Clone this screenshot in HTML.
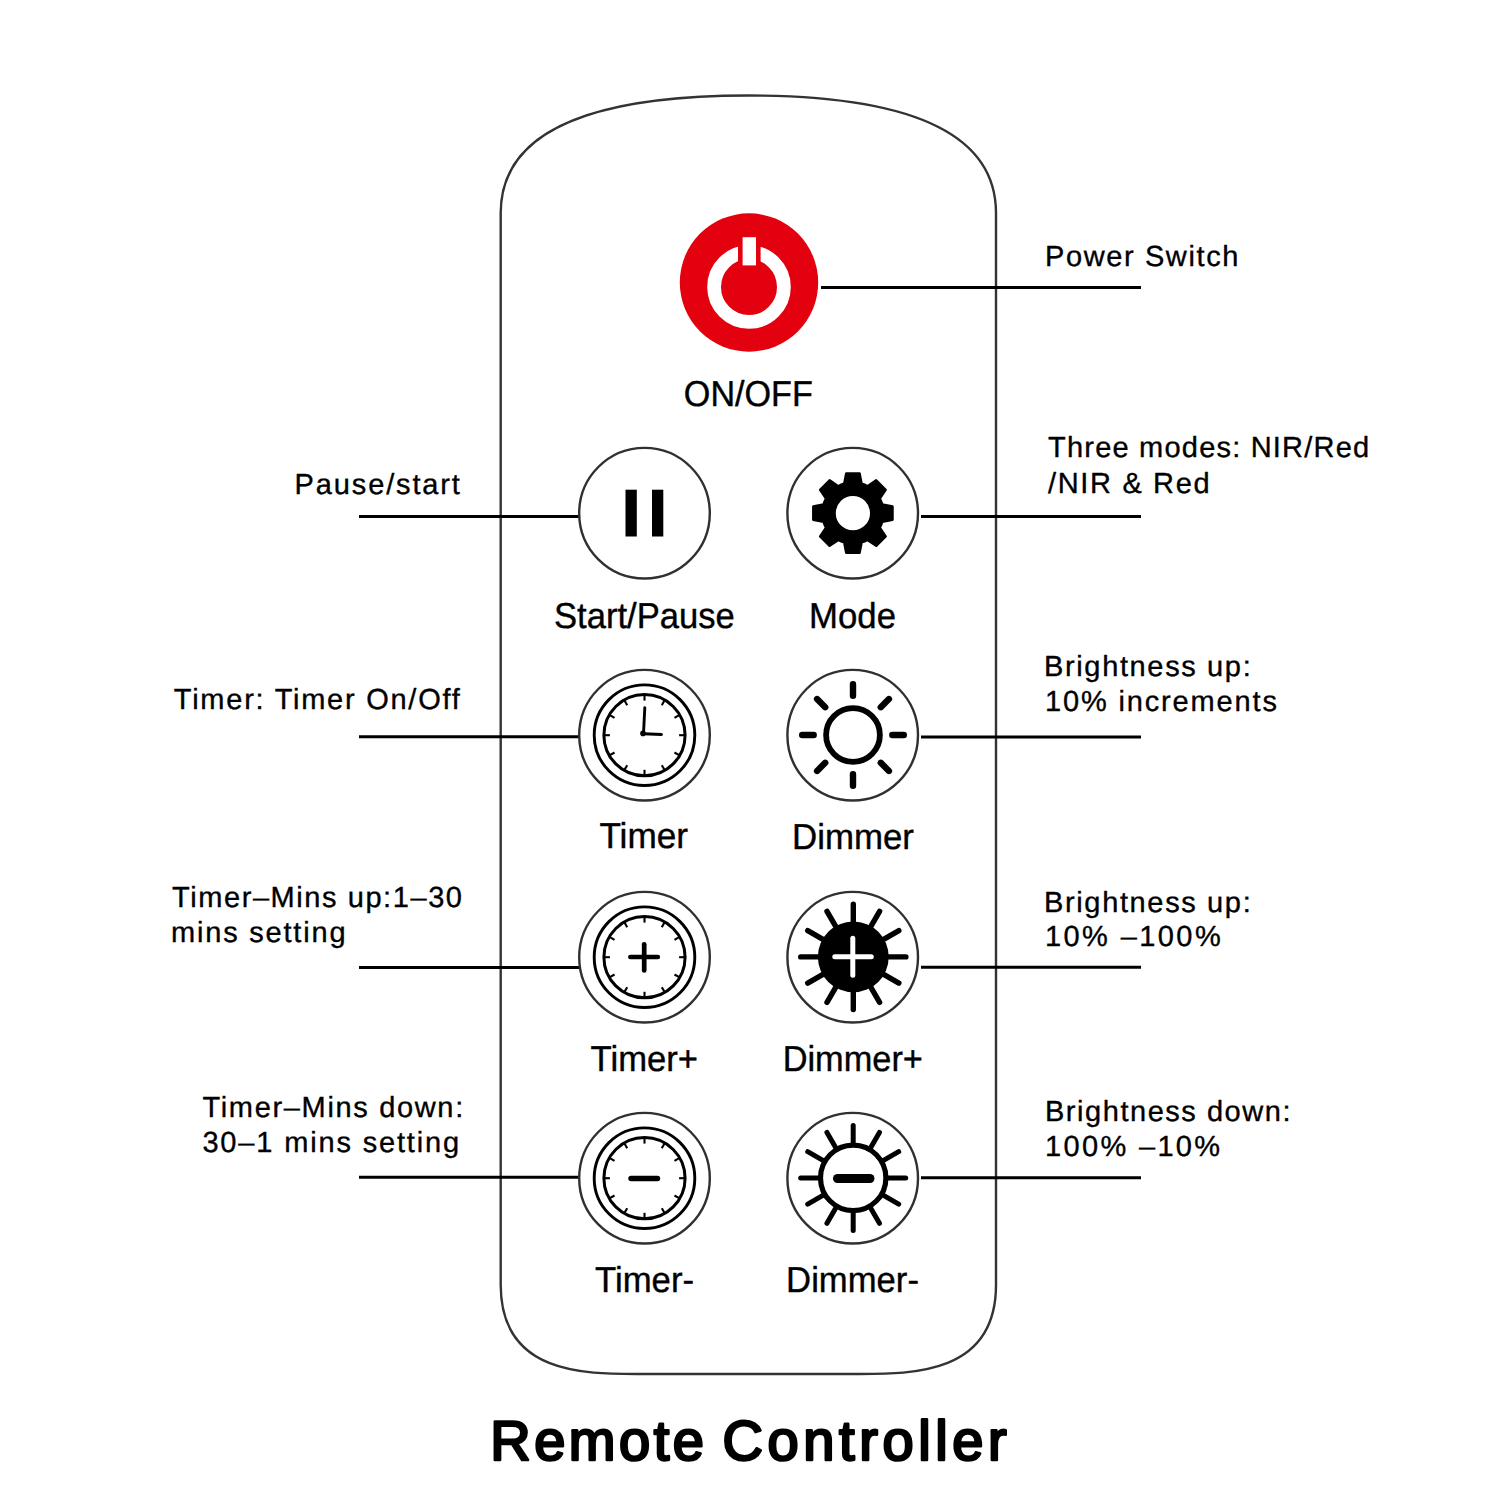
<!DOCTYPE html>
<html><head><meta charset="utf-8"><style>
html,body{margin:0;padding:0;background:#fff;}
svg{display:block;}
text{text-rendering:geometricPrecision;}
</style></head><body>
<svg width="1500" height="1500" viewBox="0 0 1500 1500">
<rect width="1500" height="1500" fill="#fff"/>
<path d="M500.7,1285.0 L500.7,213.0 C500.7,117.2 623.25,95.5 748.35,95.5 C873.45,95.5 996.0,117.2 996.0,213.0 L996.0,1285.0 C996.0,1375.6 909.7,1374.0 856.7,1374.0 L640.0,1374.0 C587.0,1374.0 500.7,1375.6 500.7,1285.0 Z" fill="none" stroke="#333" stroke-width="2.4"/>
<circle cx="749" cy="282.5" r="69.2" fill="#e3000f"/>
<circle cx="749" cy="287" r="34.9" fill="none" stroke="#fff" stroke-width="13.8"/>
<rect x="738" y="230" width="22.6" height="40" fill="#e3000f"/>
<rect x="742.6" y="237.2" width="13.4" height="28.2" fill="#fff"/>
<line x1="821" y1="287.5" x2="1141" y2="287.5" stroke="#000" stroke-width="3"/>
<line x1="359" y1="516.5" x2="579" y2="516.5" stroke="#000" stroke-width="3"/>
<line x1="921" y1="516.5" x2="1141" y2="516.5" stroke="#000" stroke-width="3"/>
<line x1="359" y1="736.8" x2="579" y2="736.8" stroke="#000" stroke-width="3"/>
<line x1="921" y1="737" x2="1141" y2="737" stroke="#000" stroke-width="3"/>
<line x1="359" y1="967.5" x2="579" y2="967.5" stroke="#000" stroke-width="3"/>
<line x1="921" y1="967.3" x2="1141" y2="967.3" stroke="#000" stroke-width="3"/>
<line x1="359" y1="1177.3" x2="579" y2="1177.3" stroke="#000" stroke-width="3"/>
<line x1="921" y1="1177.8" x2="1141" y2="1177.8" stroke="#000" stroke-width="3"/>
<circle cx="644.5" cy="513.2" r="65.3" fill="#fff" stroke="#303030" stroke-width="2.4"/>
<circle cx="852.7" cy="513.2" r="65.3" fill="#fff" stroke="#303030" stroke-width="2.4"/>
<circle cx="644.5" cy="735.2" r="65.3" fill="#fff" stroke="#303030" stroke-width="2.4"/>
<circle cx="852.7" cy="735.2" r="65.3" fill="#fff" stroke="#303030" stroke-width="2.4"/>
<circle cx="644.5" cy="957.2" r="65.3" fill="#fff" stroke="#303030" stroke-width="2.4"/>
<circle cx="852.7" cy="957.2" r="65.3" fill="#fff" stroke="#303030" stroke-width="2.4"/>
<circle cx="644.5" cy="1178.2" r="65.3" fill="#fff" stroke="#303030" stroke-width="2.4"/>
<circle cx="852.7" cy="1178.2" r="65.3" fill="#fff" stroke="#303030" stroke-width="2.4"/>
<rect x="625.5" y="489.7" width="11.3" height="46.8" fill="#000"/>
<rect x="652" y="489.7" width="11.3" height="46.8" fill="#000"/>
<path d="M844.20,483.76 L846.20,473.46 L859.60,473.46 L861.60,483.76 A30.6,30.6 0 0 1 867.49,486.20 L876.19,480.33 L885.67,489.81 L879.80,498.51 A30.6,30.6 0 0 1 882.24,504.40 L892.54,506.40 L892.54,519.80 L882.24,521.80 A30.6,30.6 0 0 1 879.80,527.69 L885.67,536.39 L876.19,545.87 L867.49,540.00 A30.6,30.6 0 0 1 861.60,542.44 L859.60,552.74 L846.20,552.74 L844.20,542.44 A30.6,30.6 0 0 1 838.31,540.00 L829.61,545.87 L820.13,536.39 L826.00,527.69 A30.6,30.6 0 0 1 823.56,521.80 L813.26,519.80 L813.26,506.40 L823.56,504.40 A30.6,30.6 0 0 1 826.00,498.51 L820.13,489.81 L829.61,480.33 L838.31,486.20 A30.6,30.6 0 0 1 844.20,483.76 Z M834.6,513.1 a18.3,18.3 0 1 0 36.6,0 a18.3,18.3 0 1 0 -36.6,0 Z" fill="#000" fill-rule="evenodd" stroke="#000" stroke-width="2.4" stroke-linejoin="round"/>
<circle cx="644.5" cy="735.2" r="50.3" fill="none" stroke="#000" stroke-width="2.9"/>
<circle cx="644.5" cy="735.2" r="40.6" fill="none" stroke="#000" stroke-width="3"/>
<line x1="679.10" y1="735.20" x2="684.50" y2="735.20" stroke="#000" stroke-width="2.1"/>
<line x1="674.46" y1="752.50" x2="679.14" y2="755.20" stroke="#000" stroke-width="2.1"/>
<line x1="661.80" y1="765.16" x2="664.50" y2="769.84" stroke="#000" stroke-width="2.1"/>
<line x1="644.50" y1="769.80" x2="644.50" y2="775.20" stroke="#000" stroke-width="2.1"/>
<line x1="627.20" y1="765.16" x2="624.50" y2="769.84" stroke="#000" stroke-width="2.1"/>
<line x1="614.54" y1="752.50" x2="609.86" y2="755.20" stroke="#000" stroke-width="2.1"/>
<line x1="609.90" y1="735.20" x2="604.50" y2="735.20" stroke="#000" stroke-width="2.1"/>
<line x1="614.54" y1="717.90" x2="609.86" y2="715.20" stroke="#000" stroke-width="2.1"/>
<line x1="627.20" y1="705.24" x2="624.50" y2="700.56" stroke="#000" stroke-width="2.1"/>
<line x1="644.50" y1="700.60" x2="644.50" y2="695.20" stroke="#000" stroke-width="2.1"/>
<line x1="661.80" y1="705.24" x2="664.50" y2="700.56" stroke="#000" stroke-width="2.1"/>
<line x1="674.46" y1="717.90" x2="679.14" y2="715.20" stroke="#000" stroke-width="2.1"/>
<circle cx="644.5" cy="957.2" r="50.3" fill="none" stroke="#000" stroke-width="2.9"/>
<circle cx="644.5" cy="957.2" r="40.6" fill="none" stroke="#000" stroke-width="3"/>
<line x1="679.10" y1="957.20" x2="684.50" y2="957.20" stroke="#000" stroke-width="2.1"/>
<line x1="674.46" y1="974.50" x2="679.14" y2="977.20" stroke="#000" stroke-width="2.1"/>
<line x1="661.80" y1="987.16" x2="664.50" y2="991.84" stroke="#000" stroke-width="2.1"/>
<line x1="644.50" y1="991.80" x2="644.50" y2="997.20" stroke="#000" stroke-width="2.1"/>
<line x1="627.20" y1="987.16" x2="624.50" y2="991.84" stroke="#000" stroke-width="2.1"/>
<line x1="614.54" y1="974.50" x2="609.86" y2="977.20" stroke="#000" stroke-width="2.1"/>
<line x1="609.90" y1="957.20" x2="604.50" y2="957.20" stroke="#000" stroke-width="2.1"/>
<line x1="614.54" y1="939.90" x2="609.86" y2="937.20" stroke="#000" stroke-width="2.1"/>
<line x1="627.20" y1="927.24" x2="624.50" y2="922.56" stroke="#000" stroke-width="2.1"/>
<line x1="644.50" y1="922.60" x2="644.50" y2="917.20" stroke="#000" stroke-width="2.1"/>
<line x1="661.80" y1="927.24" x2="664.50" y2="922.56" stroke="#000" stroke-width="2.1"/>
<line x1="674.46" y1="939.90" x2="679.14" y2="937.20" stroke="#000" stroke-width="2.1"/>
<circle cx="644.5" cy="1178.2" r="50.3" fill="none" stroke="#000" stroke-width="2.9"/>
<circle cx="644.5" cy="1178.2" r="40.6" fill="none" stroke="#000" stroke-width="3"/>
<line x1="679.10" y1="1178.20" x2="684.50" y2="1178.20" stroke="#000" stroke-width="2.1"/>
<line x1="674.46" y1="1195.50" x2="679.14" y2="1198.20" stroke="#000" stroke-width="2.1"/>
<line x1="661.80" y1="1208.16" x2="664.50" y2="1212.84" stroke="#000" stroke-width="2.1"/>
<line x1="644.50" y1="1212.80" x2="644.50" y2="1218.20" stroke="#000" stroke-width="2.1"/>
<line x1="627.20" y1="1208.16" x2="624.50" y2="1212.84" stroke="#000" stroke-width="2.1"/>
<line x1="614.54" y1="1195.50" x2="609.86" y2="1198.20" stroke="#000" stroke-width="2.1"/>
<line x1="609.90" y1="1178.20" x2="604.50" y2="1178.20" stroke="#000" stroke-width="2.1"/>
<line x1="614.54" y1="1160.90" x2="609.86" y2="1158.20" stroke="#000" stroke-width="2.1"/>
<line x1="627.20" y1="1148.24" x2="624.50" y2="1143.56" stroke="#000" stroke-width="2.1"/>
<line x1="644.50" y1="1143.60" x2="644.50" y2="1138.20" stroke="#000" stroke-width="2.1"/>
<line x1="661.80" y1="1148.24" x2="664.50" y2="1143.56" stroke="#000" stroke-width="2.1"/>
<line x1="674.46" y1="1160.90" x2="679.14" y2="1158.20" stroke="#000" stroke-width="2.1"/>
<line x1="643.5" y1="733.7" x2="644.8" y2="707.8" stroke="#000" stroke-width="2.9" stroke-linecap="round"/>
<line x1="643.5" y1="733.7" x2="661.5" y2="734.5" stroke="#000" stroke-width="2.9" stroke-linecap="round"/>
<circle cx="643.0" cy="733.4000000000001" r="2.8" fill="#000"/>
<line x1="630.4" y1="957" x2="657.8" y2="957" stroke="#000" stroke-width="4.7" stroke-linecap="round"/>
<line x1="644.2" y1="944.3" x2="644.2" y2="970.5" stroke="#000" stroke-width="4.7" stroke-linecap="round"/>
<line x1="631" y1="1178.5" x2="657.5" y2="1178.5" stroke="#000" stroke-width="5.4" stroke-linecap="round"/>
<circle cx="853" cy="735" r="26.9" fill="none" stroke="#000" stroke-width="5.8"/>
<line x1="892.30" y1="735.00" x2="903.80" y2="735.00" stroke="#000" stroke-width="6.4" stroke-linecap="round"/>
<line x1="880.79" y1="762.79" x2="888.92" y2="770.92" stroke="#000" stroke-width="6.4" stroke-linecap="round"/>
<line x1="853.00" y1="774.30" x2="853.00" y2="785.80" stroke="#000" stroke-width="6.4" stroke-linecap="round"/>
<line x1="825.21" y1="762.79" x2="817.08" y2="770.92" stroke="#000" stroke-width="6.4" stroke-linecap="round"/>
<line x1="813.70" y1="735.00" x2="802.20" y2="735.00" stroke="#000" stroke-width="6.4" stroke-linecap="round"/>
<line x1="825.21" y1="707.21" x2="817.08" y2="699.08" stroke="#000" stroke-width="6.4" stroke-linecap="round"/>
<line x1="853.00" y1="695.70" x2="853.00" y2="684.20" stroke="#000" stroke-width="6.4" stroke-linecap="round"/>
<line x1="880.79" y1="707.21" x2="888.92" y2="699.08" stroke="#000" stroke-width="6.4" stroke-linecap="round"/>
<line x1="883.30" y1="956.90" x2="905.90" y2="956.90" stroke="#000" stroke-width="5.4" stroke-linecap="round"/>
<line x1="879.28" y1="971.90" x2="898.85" y2="983.20" stroke="#000" stroke-width="5.4" stroke-linecap="round"/>
<line x1="868.30" y1="982.88" x2="879.60" y2="1002.45" stroke="#000" stroke-width="5.4" stroke-linecap="round"/>
<line x1="853.30" y1="986.90" x2="853.30" y2="1009.50" stroke="#000" stroke-width="5.4" stroke-linecap="round"/>
<line x1="838.30" y1="982.88" x2="827.00" y2="1002.45" stroke="#000" stroke-width="5.4" stroke-linecap="round"/>
<line x1="827.32" y1="971.90" x2="807.75" y2="983.20" stroke="#000" stroke-width="5.4" stroke-linecap="round"/>
<line x1="823.30" y1="956.90" x2="800.70" y2="956.90" stroke="#000" stroke-width="5.4" stroke-linecap="round"/>
<line x1="827.32" y1="941.90" x2="807.75" y2="930.60" stroke="#000" stroke-width="5.4" stroke-linecap="round"/>
<line x1="838.30" y1="930.92" x2="827.00" y2="911.35" stroke="#000" stroke-width="5.4" stroke-linecap="round"/>
<line x1="853.30" y1="926.90" x2="853.30" y2="904.30" stroke="#000" stroke-width="5.4" stroke-linecap="round"/>
<line x1="868.30" y1="930.92" x2="879.60" y2="911.35" stroke="#000" stroke-width="5.4" stroke-linecap="round"/>
<line x1="879.28" y1="941.90" x2="898.85" y2="930.60" stroke="#000" stroke-width="5.4" stroke-linecap="round"/>
<circle cx="853.3" cy="956.9" r="35.4" fill="#000"/>
<line x1="834.8" y1="956.8" x2="871.3" y2="956.8" stroke="#fff" stroke-width="5" stroke-linecap="round"/>
<line x1="852.8" y1="938.3" x2="852.8" y2="975.2" stroke="#fff" stroke-width="5" stroke-linecap="round"/>
<line x1="887.20" y1="1177.90" x2="905.70" y2="1177.90" stroke="#000" stroke-width="5" stroke-linecap="round"/>
<line x1="882.64" y1="1194.90" x2="898.67" y2="1204.15" stroke="#000" stroke-width="5" stroke-linecap="round"/>
<line x1="870.20" y1="1207.34" x2="879.45" y2="1223.37" stroke="#000" stroke-width="5" stroke-linecap="round"/>
<line x1="853.20" y1="1211.90" x2="853.20" y2="1230.40" stroke="#000" stroke-width="5" stroke-linecap="round"/>
<line x1="836.20" y1="1207.34" x2="826.95" y2="1223.37" stroke="#000" stroke-width="5" stroke-linecap="round"/>
<line x1="823.76" y1="1194.90" x2="807.73" y2="1204.15" stroke="#000" stroke-width="5" stroke-linecap="round"/>
<line x1="819.20" y1="1177.90" x2="800.70" y2="1177.90" stroke="#000" stroke-width="5" stroke-linecap="round"/>
<line x1="823.76" y1="1160.90" x2="807.73" y2="1151.65" stroke="#000" stroke-width="5" stroke-linecap="round"/>
<line x1="836.20" y1="1148.46" x2="826.95" y2="1132.43" stroke="#000" stroke-width="5" stroke-linecap="round"/>
<line x1="853.20" y1="1143.90" x2="853.20" y2="1125.40" stroke="#000" stroke-width="5" stroke-linecap="round"/>
<line x1="870.20" y1="1148.46" x2="879.45" y2="1132.43" stroke="#000" stroke-width="5" stroke-linecap="round"/>
<line x1="882.64" y1="1160.90" x2="898.67" y2="1151.65" stroke="#000" stroke-width="5" stroke-linecap="round"/>
<circle cx="853.2" cy="1177.9" r="32.7" fill="#fff" stroke="#000" stroke-width="5.2"/>
<line x1="837.5" y1="1178.5" x2="870" y2="1178.5" stroke="#000" stroke-width="9" stroke-linecap="round"/>
<text x="683.86" y="405.7" font-family="Liberation Sans" font-size="36" font-weight="normal" text-anchor="start" textLength="128.88" lengthAdjust="spacingAndGlyphs" stroke="#000" stroke-width="0.4" stroke-linejoin="round">ON/OFF</text>
<text x="554.04" y="627.7" font-family="Liberation Sans" font-size="36" font-weight="normal" text-anchor="start" textLength="180.73" lengthAdjust="spacingAndGlyphs" stroke="#000" stroke-width="0.4" stroke-linejoin="round">Start/Pause</text>
<text x="809.1" y="627.7" font-family="Liberation Sans" font-size="36" font-weight="normal" text-anchor="start" textLength="86.92" lengthAdjust="spacingAndGlyphs" stroke="#000" stroke-width="0.4" stroke-linejoin="round">Mode</text>
<text x="599.42" y="848.2" font-family="Liberation Sans" font-size="36" font-weight="normal" text-anchor="start" textLength="88.64" lengthAdjust="spacingAndGlyphs" stroke="#000" stroke-width="0.4" stroke-linejoin="round">Timer</text>
<text x="792.08" y="848.5" font-family="Liberation Sans" font-size="36" font-weight="normal" text-anchor="start" textLength="121.89" lengthAdjust="spacingAndGlyphs" stroke="#000" stroke-width="0.4" stroke-linejoin="round">Dimmer</text>
<text x="590.61" y="1070.5" font-family="Liberation Sans" font-size="36" font-weight="normal" text-anchor="start" textLength="107.42" lengthAdjust="spacingAndGlyphs" stroke="#000" stroke-width="0.4" stroke-linejoin="round">Timer+</text>
<text x="782.7" y="1070.6" font-family="Liberation Sans" font-size="36" font-weight="normal" text-anchor="start" textLength="140.23" lengthAdjust="spacingAndGlyphs" stroke="#000" stroke-width="0.4" stroke-linejoin="round">Dimmer+</text>
<text x="595.0" y="1292.4" font-family="Liberation Sans" font-size="36" font-weight="normal" text-anchor="start" textLength="99.02" lengthAdjust="spacingAndGlyphs" stroke="#000" stroke-width="0.4" stroke-linejoin="round">Timer-</text>
<text x="786.11" y="1292" font-family="Liberation Sans" font-size="36" font-weight="normal" text-anchor="start" textLength="132.84" lengthAdjust="spacingAndGlyphs" stroke="#000" stroke-width="0.4" stroke-linejoin="round">Dimmer-</text>
<text x="1045.0" y="266.2" font-family="Liberation Sans" font-size="29" font-weight="normal" text-anchor="start" textLength="193.37" lengthAdjust="spacing" stroke="#000" stroke-width="0.35" stroke-linejoin="round">Power Switch</text>
<text x="1048.0" y="457.3" font-family="Liberation Sans" font-size="29" font-weight="normal" text-anchor="start" textLength="321.17" lengthAdjust="spacing" stroke="#000" stroke-width="0.35" stroke-linejoin="round">Three modes: NIR/Red</text>
<text x="1048.0" y="493.3" font-family="Liberation Sans" font-size="29" font-weight="normal" text-anchor="start" textLength="161.67" lengthAdjust="spacing" stroke="#000" stroke-width="0.35" stroke-linejoin="round">/NIR &amp; Red</text>
<text x="1044.0" y="676.3" font-family="Liberation Sans" font-size="29" font-weight="normal" text-anchor="start" textLength="206.69" lengthAdjust="spacing" stroke="#000" stroke-width="0.35" stroke-linejoin="round">Brightness up:</text>
<text x="1045.0" y="711.4" font-family="Liberation Sans" font-size="29" font-weight="normal" text-anchor="start" textLength="231.94" lengthAdjust="spacing" stroke="#000" stroke-width="0.35" stroke-linejoin="round">10% increments</text>
<text x="1044.0" y="911.5" font-family="Liberation Sans" font-size="29" font-weight="normal" text-anchor="start" textLength="206.69" lengthAdjust="spacing" stroke="#000" stroke-width="0.35" stroke-linejoin="round">Brightness up:</text>
<text x="1045.0" y="946.4" font-family="Liberation Sans" font-size="29" font-weight="normal" text-anchor="start" textLength="175.71" lengthAdjust="spacing" stroke="#000" stroke-width="0.35" stroke-linejoin="round">10% –100%</text>
<text x="1045.0" y="1121" font-family="Liberation Sans" font-size="29" font-weight="normal" text-anchor="start" textLength="245.47" lengthAdjust="spacing" stroke="#000" stroke-width="0.35" stroke-linejoin="round">Brightness down:</text>
<text x="1045.0" y="1156.4" font-family="Liberation Sans" font-size="29" font-weight="normal" text-anchor="start" textLength="175.11" lengthAdjust="spacing" stroke="#000" stroke-width="0.35" stroke-linejoin="round">100% –10%</text>
<text x="294.6" y="493.6" font-family="Liberation Sans" font-size="29" font-weight="normal" text-anchor="start" textLength="165.29" lengthAdjust="spacing" stroke="#000" stroke-width="0.35" stroke-linejoin="round">Pause/start</text>
<text x="173.8" y="708.6" font-family="Liberation Sans" font-size="29" font-weight="normal" text-anchor="start" textLength="285.99" lengthAdjust="spacing" stroke="#000" stroke-width="0.35" stroke-linejoin="round">Timer: Timer On/Off</text>
<text x="172.0" y="906.5" font-family="Liberation Sans" font-size="29" font-weight="normal" text-anchor="start" textLength="289.97" lengthAdjust="spacing" stroke="#000" stroke-width="0.35" stroke-linejoin="round">Timer–Mins up:1–30</text>
<text x="171.0" y="941.5" font-family="Liberation Sans" font-size="29" font-weight="normal" text-anchor="start" textLength="174.53" lengthAdjust="spacing" stroke="#000" stroke-width="0.35" stroke-linejoin="round">mins setting</text>
<text x="202.4" y="1116.5" font-family="Liberation Sans" font-size="29" font-weight="normal" text-anchor="start" textLength="260.83" lengthAdjust="spacing" stroke="#000" stroke-width="0.35" stroke-linejoin="round">Timer–Mins down:</text>
<text x="202.4" y="1152" font-family="Liberation Sans" font-size="29" font-weight="normal" text-anchor="start" textLength="256.71" lengthAdjust="spacing" stroke="#000" stroke-width="0.35" stroke-linejoin="round">30–1 mins setting</text>
<text x="490.2" y="1460.2" font-family="Liberation Sans" font-size="56" font-weight="normal" text-anchor="start" textLength="213.69" lengthAdjust="spacing" stroke="#000" stroke-width="2.6" stroke-linejoin="round">Remote</text>
<text x="722.4" y="1460.2" font-family="Liberation Sans" font-size="56" font-weight="normal" text-anchor="start" textLength="284.37" lengthAdjust="spacing" stroke="#000" stroke-width="2.6" stroke-linejoin="round">Controller</text>
</svg>
</body></html>
